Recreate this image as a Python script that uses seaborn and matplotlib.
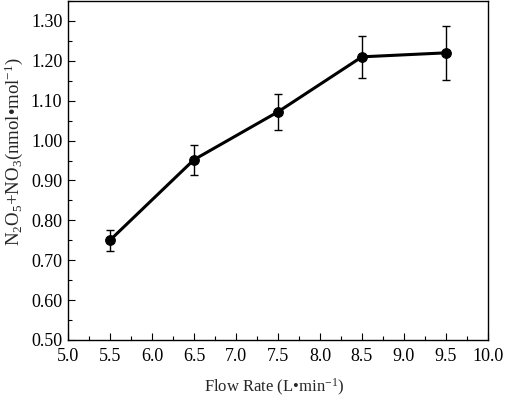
import matplotlib
matplotlib.use("Agg")
import matplotlib.pyplot as plt
from matplotlib.ticker import MultipleLocator
import seaborn as sns
import pandas as pd

flow_rate = [5.5, 6.5, 7.5, 8.5, 9.5]
n2o5_no3 = [0.750, 0.952, 1.072, 1.210, 1.220]
err = [0.026, 0.038, 0.046, 0.052, 0.067]

data = pd.DataFrame({"flow": flow_rate, "conc": n2o5_no3, "err": err})

sns.set_style("ticks")
plt.rcParams["font.family"] = ["Liberation Serif", "DejaVu Serif"]
plt.rcParams["mathtext.fontset"] = "custom"
plt.rcParams["mathtext.rm"] = "Liberation Serif"
plt.rcParams["mathtext.it"] = "Liberation Serif:italic"

fig = plt.figure(figsize=(5.07, 3.99), dpi=100)
ax = fig.add_axes([0.134, 0.148, 0.8285, 0.8495])

ax.errorbar(data["flow"], data["conc"], yerr=data["err"], fmt="none",
            ecolor="black", elinewidth=1.0, capsize=3, capthick=1.0)
sns.lineplot(x="flow", y="conc", data=data, ax=ax, color="black",
             linewidth=2.2, marker="o", markersize=7, markeredgecolor="black")

ax.set_xlim(5.0, 10.0)
ax.set_ylim(0.5, 1.35)
ax.xaxis.set_major_locator(MultipleLocator(0.5))
ax.xaxis.set_minor_locator(MultipleLocator(0.25))
ax.yaxis.set_minor_locator(MultipleLocator(0.05))
ax.set_yticks([0.5, 0.6, 0.7, 0.8, 0.9, 1.0, 1.1, 1.2, 1.3])
ax.set_xticklabels(["{:.1f}".format(v) for v in ax.get_xticks()])
ax.set_yticklabels(["{:.2f}".format(v) for v in ax.get_yticks()])

ax.tick_params(which="both", direction="in", top=False, right=False,
               labelsize=13, colors="black", width=0.8)
ax.tick_params(which="major", length=5)
ax.tick_params(which="minor", length=3)
ax.tick_params(axis="x", which="major", pad=6)
ax.tick_params(axis="y", which="major", pad=4)
for s in ax.spines.values():
    s.set_linewidth(1.0)
    s.set_color("black")

ax.set_xlabel("Flow Rate (L\u2022min$^{-1}$)", fontsize=12)
ax.xaxis.set_label_coords(0.49, -0.11)
ax.set_ylabel("N$_2$O$_5$+NO$_3$(nmol\u2022mol$^{-1}$)", fontsize=13.5)
ax.yaxis.set_label_coords(-0.102, 0.555)

fig.savefig("out.png", dpi=100)
